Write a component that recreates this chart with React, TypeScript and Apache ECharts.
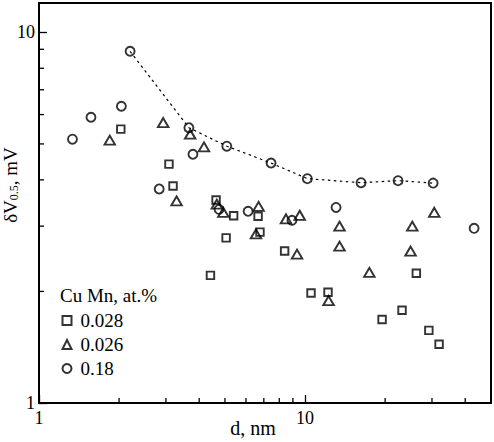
import React, { useEffect, useRef } from "react";
import * as echarts from "echarts";

// d (nm), dV0.5 (mV)
const seriesNames = ["0.028", "0.026", "0.18"];
const legendTitle = "Cu Mn, at.%";

const squarePts: [number, number][] = [
  [2.03, 5.48], [3.08, 4.41], [3.19, 3.85], [4.63, 3.53], [5.39, 3.2],
  [5.05, 2.79], [4.41, 2.21], [6.66, 3.19], [6.77, 2.89], [8.38, 2.57],
  [10.53, 1.98], [12.2, 1.99], [26.2, 2.24], [23.15, 1.78], [19.48, 1.68],
  [29.2, 1.57], [31.9, 1.44],
];

const trianglePts: [number, number][] = [
  [1.845, 5.12], [2.93, 5.71], [3.7, 5.31], [4.17, 4.91], [3.29, 3.51],
  [4.66, 3.44], [4.93, 3.27], [6.69, 3.39], [6.54, 2.86], [8.48, 3.14],
  [9.55, 3.21], [9.33, 2.52], [13.48, 3.0], [13.48, 2.65], [17.45, 2.25],
  [12.26, 1.89], [25.3, 3.0], [24.93, 2.57], [30.6, 3.27],
];

const circlePts: [number, number][] = [
  [1.336, 5.15], [1.568, 5.9], [2.04, 6.32], [2.2, 8.89], [3.66, 5.53],
  [3.79, 4.69], [2.83, 3.78], [5.08, 4.93], [7.45, 4.44], [10.2, 4.03],
  [16.24, 3.93], [22.37, 3.98], [30.3, 3.92], [13.08, 3.37], [43.2, 2.96],
  [6.11, 3.29], [4.75, 3.33], [8.93, 3.11],
];

// circles joined by the dotted guide curve (indices into circlePts)
const curveIdx = [3, 4, 7, 8, 9, 10, 11, 12];

const xMin = 1;
const xMax = 50;
const yMin = 1;
const yMax = 12;
const xMinorTicks = [2, 3, 4, 5, 6, 7, 8, 9, 20, 30, 40];
const yMinorTicks = [2, 3, 4, 5, 6, 7, 8, 9];

const FONT = "'Liberation Serif', serif";

const hollow = {
  color: "rgba(0,0,0,0)",
  borderColor: "#000",
  borderWidth: 1.9,
};

export default function App() {
  const ref = useRef<HTMLDivElement>(null);

  useEffect(() => {
    if (!ref.current) return;
    const chart = echarts.init(ref.current, null, { renderer: "svg" });

    const option: any = {
      animation: false,
      backgroundColor: "#fff",
      textStyle: { fontFamily: FONT },
      grid: {
        left: 39,
        right: 3,
        top: 3,
        bottom: 39,
        containLabel: false,
        outerBoundsMode: "none",
        show: true,
        borderColor: "#000",
        borderWidth: 2,
        backgroundColor: "transparent",
      },
      title: {
        text: legendTitle,
        left: 60,
        top: 286,
        padding: 0,
        textStyle: {
          fontFamily: FONT,
          fontSize: 19,
          fontWeight: "normal",
          color: "#000",
        },
      },
      legend: {
        data: seriesNames,
        orient: "vertical",
        left: 61.5,
        top: 311,
        padding: 0,
        itemWidth: 9,
        itemHeight: 9,
        itemGap: 5,
        textStyle: {
          fontFamily: FONT,
          fontSize: 19,
          color: "#000",
          lineHeight: 19,
          padding: [0, 0, 0, 4],
        },
      },
      xAxis: {
        type: "log",
        logBase: 10,
        min: xMin,
        max: xMax,
        name: "d, nm",
        nameLocation: "middle",
        nameGap: 15,
        nameMoveOverlap: false,
        nameTextStyle: {
          fontFamily: FONT,
          fontSize: 20,
          color: "#000",
          padding: [0, 24, 0, 0],
        },
        axisLine: { lineStyle: { color: "#000", width: 2 } },
        axisTick: { inside: true, length: 8, lineStyle: { color: "#000", width: 1.3 } },
        axisLabel: {
          fontFamily: FONT,
          fontSize: 18,
          color: "#000",
          margin: 6,
          showMaxLabel: false,
        },
        splitLine: { show: false },
        minorTick: { show: false },
      },
      yAxis: {
        type: "log",
        logBase: 10,
        min: yMin,
        max: yMax,
        name: "{d|δV}{s|0.5}{d|, mV}",
        nameLocation: "middle",
        nameGap: 19,
        nameRotate: 90,
        nameMoveOverlap: false,
        nameTextStyle: {
          fontFamily: FONT,
          color: "#000",
          padding: [0, 0, 0, 36],
          rich: {
            d: { fontFamily: FONT, fontSize: 19, color: "#000", lineHeight: 19 },
            s: {
              fontFamily: FONT,
              fontSize: 12,
              color: "#000",
              verticalAlign: "bottom",
              lineHeight: 12,
            },
          },
        },
        axisLine: { lineStyle: { color: "#000", width: 2 } },
        axisTick: { inside: true, length: 8, lineStyle: { color: "#000", width: 1.3 } },
        axisLabel: {
          fontFamily: FONT,
          fontSize: 18,
          color: "#000",
          margin: 4,
          showMaxLabel: false,
        },
        splitLine: { show: false },
        minorTick: { show: false },
      },
      series: [
        {
          type: "custom",
          name: "xminor",
          silent: true,
          z: 1,
          data: xMinorTicks.map((v) => [v, yMin]),
          renderItem: (params: any, api: any) => {
            const p = api.coord([api.value(0), api.value(1)]);
            return {
              type: "line",
              shape: { x1: p[0], y1: p[1], x2: p[0], y2: p[1] - 5 },
              style: { stroke: "#000", lineWidth: 1.3 },
            };
          },
        },
        {
          type: "custom",
          name: "yminor",
          silent: true,
          z: 1,
          data: yMinorTicks.map((v) => [xMin, v]),
          renderItem: (params: any, api: any) => {
            const p = api.coord([api.value(0), api.value(1)]);
            return {
              type: "line",
              shape: { x1: p[0], y1: p[1], x2: p[0] + 5, y2: p[1] },
              style: { stroke: "#000", lineWidth: 1.3 },
            };
          },
        },
        {
          type: "line",
          name: "curve",
          silent: true,
          symbol: "none",
          z: 1,
          data: curveIdx.map((i) => circlePts[i]),
          lineStyle: { color: "#000", width: 1.2, type: [2.5, 3.5] },
        },
        {
          type: "scatter",
          name: seriesNames[0],
          symbol: "rect",
          symbolSize: 7.5,
          itemStyle: hollow,
          data: squarePts,
          z: 3,
        },
        {
          type: "scatter",
          name: seriesNames[1],
          symbol: "triangle",
          symbolSize: [10.5, 9],
          itemStyle: hollow,
          data: trianglePts,
          z: 3,
        },
        {
          type: "scatter",
          name: seriesNames[2],
          symbol: "circle",
          symbolSize: 9,
          itemStyle: hollow,
          data: circlePts,
          z: 3,
        },
      ],
    };

    chart.setOption(option);
    return () => chart.dispose();
  }, []);

  return (
    <div
      ref={ref}
      style={{ position: "absolute", left: 0, top: 0, width: 494, height: 442 }}
    />
  );
}
